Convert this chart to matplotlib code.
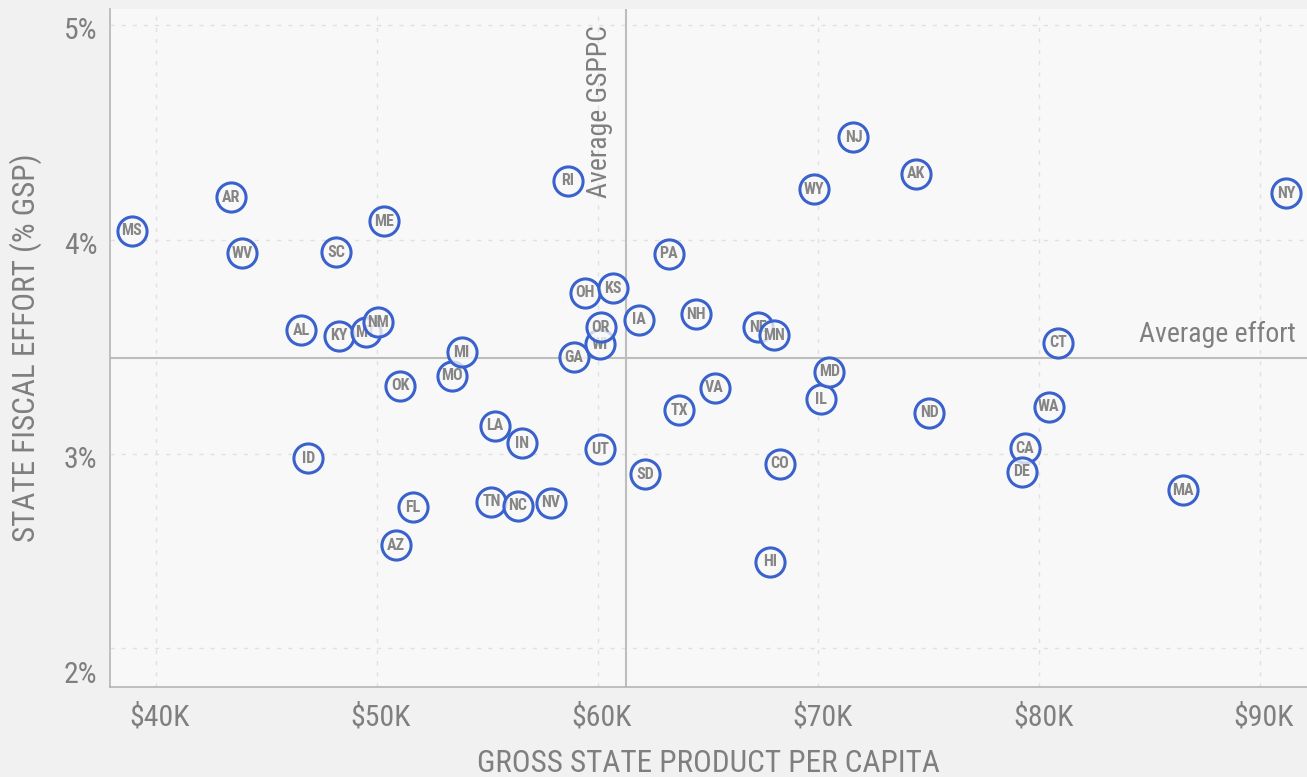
import matplotlib
matplotlib.use("Agg")
import matplotlib.pyplot as plt
from matplotlib import font_manager as fm
from matplotlib.transforms import ScaledTranslation

# states, gross state product per capita ($K) and fiscal effort (% of GSP)
states = ["MS", "AR", "WV", "AL", "ID", "SC", "KY", "MT", "NM", "ME", "AZ", "OK",
          "FL", "MO", "MI", "TN", "LA", "NC", "IN", "NV", "RI", "GA", "OH", "WI",
          "OR", "UT", "KS", "IA", "SD", "PA", "TX", "NH", "VA", "NE", "MN", "HI",
          "CO", "WY", "IL", "MD", "NJ", "AK", "ND", "CA", "DE", "WA", "CT", "MA", "NY"]
gsppc = [38.91, 43.42, 43.92, 46.57, 46.90, 48.15, 48.27, 49.50, 50.04, 50.34, 50.88, 51.06,
         51.64, 53.39, 53.85, 55.19, 55.34, 56.40, 56.56, 57.88, 58.65, 58.92, 59.44, 60.10,
         60.14, 60.12, 60.68, 61.89, 62.15, 63.23, 63.70, 64.44, 65.30, 67.25, 67.98, 67.81,
         68.25, 69.79, 70.10, 70.49, 71.59, 74.41, 75.02, 79.34, 79.22, 80.43, 80.84, 86.53, 91.18]
effort = [4.042, 4.197, 3.936, 3.578, 2.981, 3.940, 3.552, 3.567, 3.614, 4.085, 2.574, 3.318,
          2.752, 3.365, 3.474, 2.778, 3.131, 2.759, 3.051, 2.773, 4.274, 3.452, 3.751, 3.511,
          3.591, 3.022, 3.772, 3.626, 2.905, 3.934, 3.205, 3.653, 3.309, 3.592, 3.553, 2.497,
          2.955, 4.234, 3.256, 3.384, 4.476, 4.307, 3.193, 3.027, 2.917, 3.221, 3.520, 2.831, 4.215]

avg_gsppc = 61.29
avg_effort = 3.448

x_ticks = [40, 50, 60, 70, 80, 90]
x_labels = ["$40K", "$50K", "$60K", "$70K", "$80K", "$90K"]
y_ticks = [2, 3, 4, 5]
y_labels = ["2%", "3%", "4%", "5%"]
y_grid = [2.096, 3, 4, 5]

# pick a narrow font if one is installed
names = {f.name for f in fm.fontManager.ttflist}
if "Roboto Condensed" in names:
    FAMILY, STRETCH, SCALE = "Roboto Condensed", "normal", 1.0
elif "Liberation Sans Narrow" in names:
    FAMILY, STRETCH, SCALE = "Liberation Sans Narrow", "normal", 1.0
elif any(f.name == "DejaVu Sans" and f.stretch == "condensed" for f in fm.fontManager.ttflist):
    FAMILY, STRETCH, SCALE = "DejaVu Sans", "condensed", 0.9
else:
    FAMILY, STRETCH, SCALE = "Roboto", "normal", 0.85

plt.rcParams["font.family"] = [FAMILY, "DejaVu Sans"]
plt.rcParams["font.stretch"] = STRETCH

GREY = "#7f7f7f"
BLUE = "#3a62cc"

fig = plt.figure(figsize=(13.07, 7.77), dpi=100, facecolor="#f1f1f1")
ax = fig.add_axes([110 / 1307, 90 / 777, 1197 / 1307, 678 / 777])
ax.set_facecolor("#f8f8f8")

ax.set_xlim(37.92, 92.13)
ax.set_ylim(1.914, 5.075)

for s in ["top", "right"]:
    ax.spines[s].set_visible(False)
for s in ["left", "bottom"]:
    ax.spines[s].set_color("#b5b5b5")
    ax.spines[s].set_linewidth(1.2)

# dashed grid
for xv in x_ticks:
    ax.axvline(xv, color="#e0e0e0", lw=1, ls=(0, (3, 5)), zorder=1)
for yv in y_grid:
    ax.axhline(yv, color="#e0e0e0", lw=1, ls=(0, (3, 5)), zorder=1)

# average lines
ax.axvline(avg_gsppc, color="#bdbdbd", lw=1.5, zorder=2)
ax.axhline(avg_effort, color="#bdbdbd", lw=1.5, zorder=2)
ax.text(60.11, 5.0, "Average GSPPC", rotation=90, ha="center", va="top",
        fontsize=20 * SCALE, color=GREY, zorder=2)
ax.text(91.63, 3.559, "Average effort", ha="right", va="center",
        fontsize=20 * SCALE, color=GREY, zorder=2)

# circles with state codes
for i, (st, xv, yv) in enumerate(zip(states, gsppc, effort)):
    ax.scatter([xv], [yv], s=440, facecolors=[(0.973, 0.973, 0.973, 0.78)],
               edgecolors=BLUE, linewidths=2.2, zorder=3 + 2 * i)
    ax.text(xv, yv, st, ha="center", va="center", fontsize=11.5 * SCALE,
            fontweight="bold", color="#858585", zorder=4 + 2 * i)

ax.set_xticks(x_ticks)
ax.set_xticklabels(x_labels)
ax.set_yticks(y_ticks)
ax.set_yticklabels(y_labels)
ax.tick_params(length=0, colors=GREY, labelsize=21.5 * SCALE)
ax.tick_params(axis="x", pad=12)
ax.tick_params(axis="y", pad=9)
for lab in ax.get_xticklabels():
    lab.set_transform(lab.get_transform() + ScaledTranslation(0.04, 0, fig.dpi_scale_trans))
for lab in ax.get_yticklabels():
    lab.set_transform(lab.get_transform() + ScaledTranslation(0, -0.03, fig.dpi_scale_trans))

ax.set_xlabel("GROSS STATE PRODUCT PER CAPITA", fontsize=22.5 * SCALE, color=GREY)
ax.set_ylabel("STATE FISCAL EFFORT (% GSP)", fontsize=22.5 * SCALE, color=GREY)
ax.xaxis.set_label_coords(0.5, -0.092)
ax.yaxis.set_label_coords(-0.0568, 0.5)

fig.savefig("out.png", dpi=100, facecolor=fig.get_facecolor())
